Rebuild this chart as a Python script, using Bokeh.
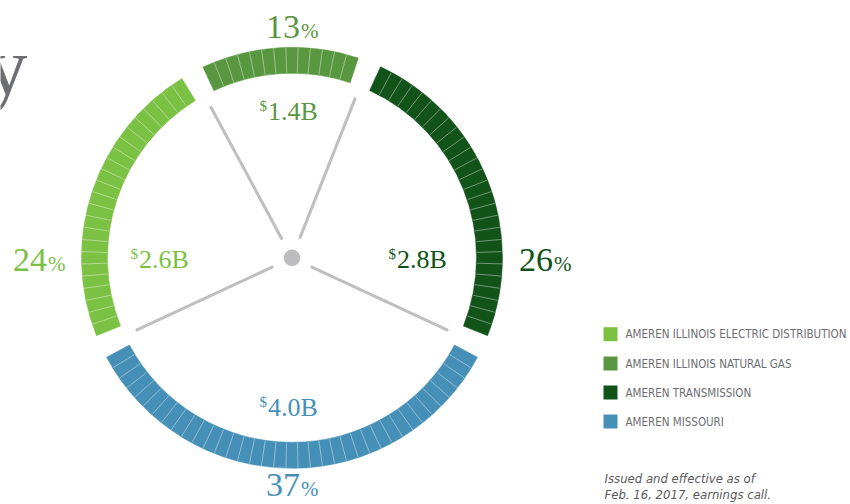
import numpy as np
from bokeh.plotting import figure
from bokeh.models import Range1d
from bokeh.core.properties import value
from bokeh.embed import file_html
from bokeh.resources import INLINE

# ---------------- data ----------------
segments = ["AMEREN ILLINOIS ELECTRIC DISTRIBUTION",
            "AMEREN ILLINOIS NATURAL GAS",
            "AMEREN TRANSMISSION",
            "AMEREN MISSOURI"]
shares = [24, 13, 26, 37]                 # percent of rate base
amounts = ["2.6B", "1.4B", "2.8B", "4.0B"]  # $ billions
colors = ["#7bc143", "#58973f", "#12531a", "#4690b8"]
note_lines = ["Issued and effective as of", "Feb. 16, 2017, earnings call."]

# ---------------- layout ----------------
W, H = 850, 504
cx, cy = 291.5, H - 257.3
r_in, r_out = 184.5, 210.5
gap = 6.5
order = [3, 2, 1, 0]             # counter-clockwise from the bottom segment
label_dir = [180, 90, 0, 270]    # where each segment's labels sit
unit = (360 - gap * len(shares)) / sum(shares)
BL = 0.28                        # baseline compensation (em)

seg_start = [0.0] * len(shares)
a = 270 - shares[3] * unit / 2
for i in order:
    seg_start[i] = a
    a += shares[i] * unit + gap
seg_end = [seg_start[i] + shares[i] * unit for i in range(len(shares))]

SERIF = value("Liberation Serif")
COND = value("'DejaVu Sans Condensed', 'Roboto Condensed', 'Liberation Sans Narrow', Roboto")

p = figure(width=W, height=H, x_range=Range1d(0, W), y_range=Range1d(0, H),
           output_backend="svg", toolbar_location=None, min_border=0)
p.axis.visible = False
p.grid.visible = False
p.outline_line_color = None
p.background_fill_color = "white"
p.border_fill_color = "white"

# ring segments
p.annular_wedge(x=[cx] * 4, y=[cy] * 4, inner_radius=r_in, outer_radius=r_out,
                start_angle=seg_start, end_angle=seg_end, start_angle_units="deg",
                end_angle_units="deg", fill_color=colors, line_color=colors, line_width=0.5)

# cell dividers (one cell per percentage point)
x0s, y0s, x1s, y1s = [], [], [], []
for i in range(len(shares)):
    for k in range(1, shares[i]):
        ang = np.deg2rad(seg_start[i] + k * unit)
        x0s.append(cx + (r_in + 0.5) * np.cos(ang)); y0s.append(cy + (r_in + 0.5) * np.sin(ang))
        x1s.append(cx + (r_out - 0.5) * np.cos(ang)); y1s.append(cy + (r_out - 0.5) * np.sin(ang))
p.segment(x0=x0s, y0=y0s, x1=x1s, y1=y1s, line_color="white", line_alpha=0.4, line_width=1)

# spokes at the gaps
sx0, sy0, sx1, sy1 = [], [], [], []
for i in range(len(shares)):
    ang = np.deg2rad(seg_end[i] + gap / 2)
    sx0.append(cx + 22 * np.cos(ang)); sy0.append(cy + 22 * np.sin(ang))
    sx1.append(cx + 171 * np.cos(ang)); sy1.append(cy + 171 * np.sin(ang))
p.segment(x0=sx0, y0=sy0, x1=sx1, y1=sy1, line_color="#bfbfc1", line_width=3, line_cap="round")

# center dot
p.circle(x=[cx], y=[cy], radius=8.3, fill_color="#bdbdbf", line_color=None)


def txt(x, y, s, fs, color, align, font=SERIF):
    p.text(x=[x], y=[y + BL * fs], text=[s], text_font=font,
           text_font_size=f"{fs}px", text_color=color, text_align=align,
           text_baseline="alphabetic")


# percentage labels (outside) and $ labels (inside)
for i in range(len(shares)):
    d = np.deg2rad(label_dir[i])
    ax = cx + 253 * np.cos(d)
    ay = cy + 233 * np.sin(d) - 12 + (8 if np.sin(d) < -0.5 else 0)
    txt(ax + 8, ay, str(shares[i]), 34, colors[i], "right")
    txt(ax + 9, ay, "%", 21, colors[i], "left")
    bx = cx + 129 * np.cos(d) - 4
    by = cy + 148 * np.sin(d) - 9
    txt(bx - 20, by, amounts[i], 26, colors[i], "left")
    txt(bx - 21, by + 9, "$", 15, colors[i], "right")

# partially visible title glyph at left (the title runs off the page in the original)
txt(27, H - 89, "y", 82, "#6d6e71", "right")

# legend
leg_y = [H - 333.7, H - 363.0, H - 392.0, H - 421.0]
p.rect(x=[610] * 4, y=leg_y, width=14, height=14, fill_color=colors, line_color=None)
p.text(x=[625] * 4, y=leg_y, text=segments, text_font=COND, text_font_size="11.5px",
       text_color="#6d6e71", text_align="left", text_baseline="middle")

# note
p.text(x=[604, 604], y=[H - 477.5, H - 494], text=note_lines, text_font=COND,
       text_font_size="13px", text_font_style="italic", text_color="#58595b",
       text_align="left", text_baseline="middle")

open("out.html", "w").write(file_html(p, INLINE))
